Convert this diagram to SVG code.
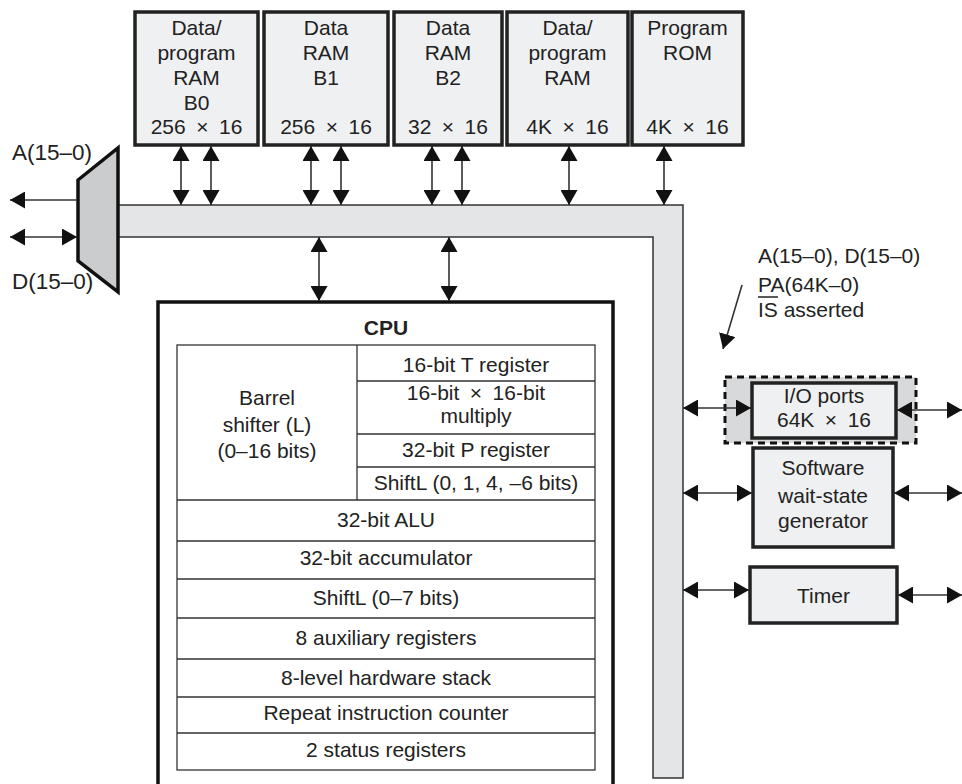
<svg xmlns="http://www.w3.org/2000/svg" width="962" height="784" viewBox="0 0 962 784">
<defs>
<style>
text{font-family:"Liberation Sans",Arial,sans-serif;font-size:21px;fill:#222;text-anchor:middle}
.l{text-anchor:start}
.big{font-size:22.5px}
.box{fill:#eff0f1;stroke:#222;stroke-width:3.5}
.thin{fill:none;stroke:#333;stroke-width:1.3}
.ar{stroke:#333;stroke-width:1.6;fill:none;marker-end:url(#ah);marker-start:url(#ah)}
.a1{stroke:#333;stroke-width:1.6;fill:none;marker-end:url(#ah)}
</style>
<marker id="ah" viewBox="0 0 15 17" refX="15" refY="8.5" markerWidth="15" markerHeight="17" markerUnits="userSpaceOnUse" orient="auto-start-reverse">
<path d="M0,0 L15,8.5 L0,17 z" fill="#111"/>
</marker>
</defs>
<rect width="962" height="784" fill="#fff"/>

<g id="bus">
<path d="M118,205 H683 V778 H653 V237 H118 Z" fill="#e4e5e7" stroke="#333" stroke-width="1.5"/>
</g>

<g id="mux">
<polygon points="78,180 118,148 118,292 78,261" fill="#cbccce" stroke="#111" stroke-width="3.5" stroke-linejoin="miter"/>
<text class="l big" x="12" y="160">A(15–0)</text>
<text class="l big" x="12" y="289">D(15–0)</text>
</g>

<g id="ram-b0">
<rect class="box" x="135" y="12" width="123" height="133"/>
<text x="196.5" y="35">Data/</text>
<text x="196.5" y="60">program</text>
<text x="196.5" y="85">RAM</text>
<text x="196.5" y="110">B0</text>
<text x="196.5" y="134">256&#8194;×&#8194;16</text>
</g>
<g id="ram-b1">
<rect class="box" x="264" y="12" width="124" height="133"/>
<text x="326" y="35">Data</text>
<text x="326" y="60">RAM</text>
<text x="326" y="85">B1</text>
<text x="326" y="134">256&#8194;×&#8194;16</text>
</g>
<g id="ram-b2">
<rect class="box" x="394" y="12" width="108" height="133"/>
<text x="448" y="35">Data</text>
<text x="448" y="60">RAM</text>
<text x="448" y="85">B2</text>
<text x="448" y="134">32&#8194;×&#8194;16</text>
</g>
<g id="ram-4k">
<rect class="box" x="507" y="12" width="121" height="133"/>
<text x="567.5" y="35">Data/</text>
<text x="567.5" y="60">program</text>
<text x="567.5" y="85">RAM</text>
<text x="567.5" y="134">4K&#8194;×&#8194;16</text>
</g>
<g id="rom">
<rect class="box" x="632" y="12" width="111" height="133"/>
<text x="687.5" y="35">Program</text>
<text x="687.5" y="60">ROM</text>
<text x="687.5" y="134">4K&#8194;×&#8194;16</text>
</g>

<g id="cpu">
<path d="M158,790 V302 H613 V790" fill="#fff" stroke="#111" stroke-width="3.5"/>
<text x="386" y="335" style="font-weight:bold">CPU</text>
<rect class="thin" x="177" y="345" width="418" height="425"/>
<path class="thin" d="M357,345 V500 M357,381 H595 M357,434 H595 M357,467 H595 M177,500 H595 M177,541 H595 M177,579 H595 M177,618 H595 M177,659 H595 M177,697 H595 M177,733 H595"/>
<text x="267" y="405">Barrel</text>
<text x="267" y="432">shifter (L)</text>
<text x="267" y="458">(0–16 bits)</text>
<text x="476" y="372">16-bit T register</text>
<text x="476" y="400">16-bit&#8194;×&#8194;16-bit</text>
<text x="476" y="423">multiply</text>
<text x="476" y="457">32-bit P register</text>
<text x="476" y="490">ShiftL (0, 1, 4, –6 bits)</text>
<text x="386" y="527">32-bit ALU</text>
<text x="386" y="565">32-bit accumulator</text>
<text x="386" y="605">ShiftL (0–7 bits)</text>
<text x="386" y="645">8 auxiliary registers</text>
<text x="386" y="685">8-level hardware stack</text>
<text x="386" y="720">Repeat instruction counter</text>
<text x="386" y="757">2 status registers</text>
</g>

<g id="io">
<rect x="725" y="377" width="191" height="66" fill="#d8d9db" stroke="#111" stroke-width="3" stroke-dasharray="7,5"/>
<rect class="box" x="752" y="383" width="144" height="55"/>
<text x="824" y="403">I/O ports</text>
<text x="824" y="427">64K&#8194;×&#8194;16</text>
</g>
<g id="wait">
<rect class="box" x="753" y="448" width="140" height="99"/>
<text x="823" y="475">Software</text>
<text x="823" y="503">wait-state</text>
<text x="823" y="528">generator</text>
</g>
<g id="timer">
<rect class="box" x="750" y="567" width="147" height="56"/>
<text x="823.5" y="603">Timer</text>
</g>

<g id="note">
<text class="l" x="758" y="263">A(15–0), D(15–0)</text>
<text class="l" x="758" y="292">PA(64K–0)</text>
<text class="l" x="758" y="317">IS asserted</text>
<line x1="758" y1="297" x2="778" y2="297" stroke="#222" stroke-width="1.5"/>
</g>

<g id="connectors">
<line class="ar" x1="181" y1="146" x2="181" y2="205"/>
<line class="ar" x1="211" y1="146" x2="211" y2="205"/>
<line class="ar" x1="311" y1="146" x2="311" y2="205"/>
<line class="ar" x1="341" y1="146" x2="341" y2="205"/>
<line class="ar" x1="432" y1="146" x2="432" y2="205"/>
<line class="ar" x1="462" y1="146" x2="462" y2="205"/>
<line class="ar" x1="569" y1="146" x2="569" y2="205"/>
<line class="ar" x1="664" y1="146" x2="664" y2="205"/>
<line class="ar" x1="319" y1="237" x2="319" y2="301"/>
<line class="ar" x1="449" y1="237" x2="449" y2="301"/>
<line class="a1" x1="77" y1="200" x2="10" y2="200"/>
<line class="ar" x1="10" y1="237" x2="77" y2="237"/>
<line class="ar" x1="683" y1="408" x2="751" y2="408"/>
<line class="ar" x1="897" y1="410" x2="962" y2="410"/>
<line class="ar" x1="683" y1="493" x2="752" y2="493"/>
<line class="ar" x1="894" y1="493" x2="962" y2="493"/>
<line class="ar" x1="683" y1="590" x2="749" y2="590"/>
<line class="ar" x1="898" y1="595" x2="962" y2="595"/>
<line class="a1" x1="742" y1="285" x2="723" y2="349"/>
</g>
</svg>
